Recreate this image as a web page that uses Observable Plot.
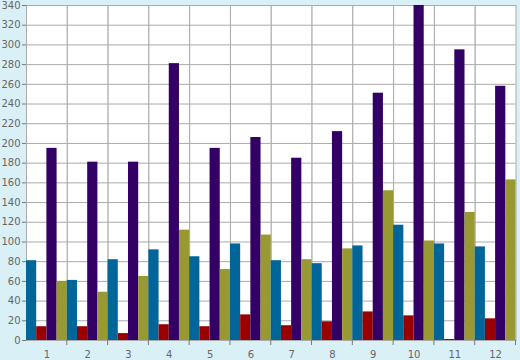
<!DOCTYPE html>
<html>
<head>
<meta charset="utf-8">
<script src="https://cdn.jsdelivr.net/npm/d3@7"></script>
<script src="https://cdn.jsdelivr.net/npm/@observablehq/plot@0.6"></script>
<style>
  html, body { margin: 0; padding: 0; background: #daf0f7; }
  #chart { width: 520px; height: 360px; }
</style>
</head>
<body>
<div id="chart"></div>
<script>
const months = ["1","2","3","4","5","6","7","8","9","10","11","12"];
const seriesNames = ["A","B","C","D"];
const seriesColors = ["#006699","#990000","#330066","#999933"];
const seriesA = [81, 61, 82, 92, 85, 98, 81, 78, 96, 117, 98, 95];
const seriesB = [14, 14, 7, 16, 14, 26, 15, 19, 29, 25, 1, 22];
const seriesC = [195, 181, 181, 281, 195, 206, 185, 212, 251, 340, 295, 258];
const seriesD = [60, 49, 65, 112, 72, 107, 82, 93, 152, 101, 130, 163];
const yTicks = d3.range(0, 341, 20);

const allSeries = [seriesA, seriesB, seriesC, seriesD];
const data = [];
months.forEach((m, i) => {
  seriesNames.forEach((s, j) => data.push({month: m, series: s, value: allSeries[j][i]}));
});

const font = "DejaVu Sans, sans-serif";
const plot = Plot.plot({
  width: 520,
  height: 360,
  marginLeft: 26,
  marginRight: 4.5,
  marginTop: 5,
  marginBottom: 20,
  style: {background: "transparent", fontFamily: font, fontSize: "10px", color: "#666"},
  fx: {domain: months, padding: 0, round: false, label: null},
  x: {domain: seriesNames, padding: 0, round: false, axis: null},
  y: {domain: [0, 340], label: null},
  color: {domain: seriesNames, range: seriesColors},
  marks: [
    Plot.frame({fill: "white", stroke: "#aaaaaa", strokeOpacity: 1}),
    Plot.gridY(yTicks, {stroke: "#aaaaaa", strokeOpacity: 1}),
    Plot.barY(data, {fx: "month", x: "series", y: "value", fill: "series"}),
    Plot.axisY(yTicks, {tickSize: 4, tickPadding: 2, stroke: "#777", fill: "#666", label: null}),
    Plot.axisFx({anchor: "bottom", tickSize: 0, tickPadding: 10, fill: "#666", label: null})
  ]
});
document.getElementById("chart").appendChild(plot);

// boundary ticks below the plot at group edges, from Plot's own fx and y scales
const fxs = plot.scale("fx");
const ys = plot.scale("y");
const band = d3.scaleBand().domain(fxs.domain).range(fxs.range).padding(0);
const y0 = ys.range[0];
const svg = d3.select(plot.tagName.toLowerCase() === "svg" ? plot : plot.querySelector("svg"));
svg.append("g")
  .attr("stroke", "#777")
  .selectAll("line")
  .data(fxs.domain)
  .join("line")
  .attr("x1", d => band(d) + band.bandwidth())
  .attr("x2", d => band(d) + band.bandwidth())
  .attr("y1", y0)
  .attr("y2", y0 + 5);
</script>
</body>
</html>
